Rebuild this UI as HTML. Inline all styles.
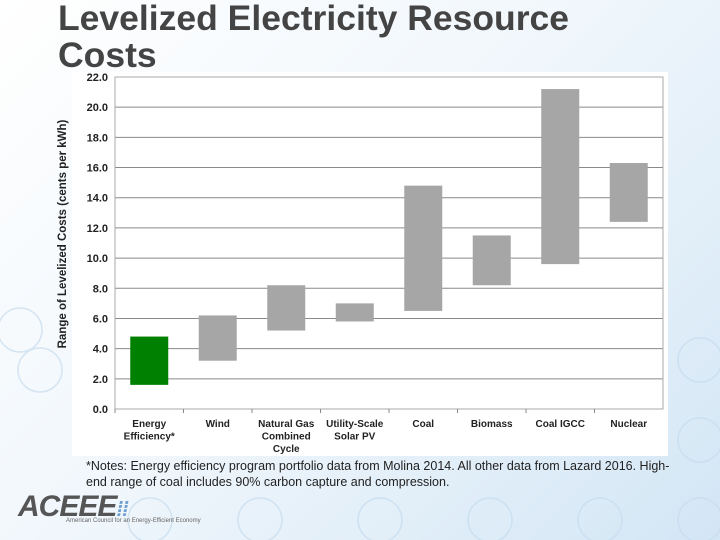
<!DOCTYPE html>
<html><head><meta charset="utf-8"><style>
body{margin:0;width:720px;height:540px;overflow:hidden;font-family:"Liberation Sans",sans-serif;background:linear-gradient(135deg,#ffffff 0%,#f1f7fc 45%,#d3e6f5 100%);position:relative}
.title{position:absolute;left:58px;top:0px;font-size:35.5px;font-weight:bold;color:#444;line-height:37px}
.note{position:absolute;left:86px;top:458px;font-size:12.5px;color:#222;line-height:16px;width:600px}
.logo{position:absolute;left:18px;top:490px;font-size:30px;font-weight:bold;color:#555;font-style:italic;letter-spacing:-1px}
.sub{position:absolute;left:66px;top:518px;font-size:6px;color:#666}
</style></head><body>
<div class="title">Levelized Electricity Resource<br>Costs</div>
<svg id="c" width="720" height="540" style="position:absolute;left:0;top:0">
<g fill="none" stroke="#c6dcee" stroke-width="1.5" opacity="0.7">
<circle cx="20" cy="330" r="22"/><circle cx="40" cy="370" r="22"/><circle cx="150" cy="520" r="22"/><circle cx="260" cy="520" r="22"/><circle cx="380" cy="520" r="22"/><circle cx="490" cy="520" r="22"/><circle cx="600" cy="520" r="22"/><circle cx="700" cy="520" r="22"/><circle cx="700" cy="440" r="22"/><circle cx="700" cy="360" r="22"/>
</g>
<rect x="72" y="72" width="596" height="384" fill="#fff"/>
<g id="grid"></g><g id="bars"></g><g id="axes"></g>
<text transform="translate(66,234) rotate(-90)" text-anchor="middle" font-size="11.5" font-weight="bold" fill="#222">Range of Levelized Costs (cents per kWh)</text>
</svg>
<div class="note">*Notes: Energy efficiency program portfolio data from Molina 2014. All other data from Lazard 2016. High-end range of coal includes 90% carbon capture and compression.</div>
<div class="logo">ACEEE<span style="color:#6f9fcf;font-size:20px">⁞⁞</span></div>
<div class="sub">American Council for an Energy-Efficient Economy</div>
<script>
const categories=[["Energy","Efficiency*"],["Wind"],["Natural Gas","Combined","Cycle"],["Utility-Scale","Solar PV"],["Coal"],["Biomass"],["Coal IGCC"],["Nuclear"]];
const lowValues=[1.6,3.2,5.2,5.8,6.5,8.2,9.6,12.4];
const highValues=[4.8,6.2,8.2,7.0,14.8,11.5,21.2,16.3];
const yTicks=[0,2,4,6,8,10,12,14,16,18,20,22];
const NS="http://www.w3.org/2000/svg";
const X0=115,X1=663,Y0=409,Y1=77,YMAX=22;
const y=v=>Y0-(v/YMAX)*(Y0-Y1);
const cw=(X1-X0)/categories.length;
const x=i=>X0+cw*i;
function mk(t,a,p){const e=document.createElementNS(NS,t);for(const k in a)e.setAttribute(k,a[k]);p.appendChild(e);return e;}
const g=document.getElementById('grid'),b=document.getElementById('bars'),ax=document.getElementById('axes');
yTicks.forEach(v=>{
 const l=mk('line',{x1:X0,x2:X1,y1:y(v),y2:y(v),stroke:'#8a8a8a','stroke-width':1},g);
 
 
 const t=mk('text',{x:X0-7,y:y(v)+4,'text-anchor':'end','font-size':11,'font-weight':'bold',fill:'#222'},ax);
 t.textContent=v.toFixed(1);
 
 
});
mk('rect',{x:X0,y:Y1,width:X1-X0,height:Y0-Y1,fill:'none',stroke:'#aaa'},ax);
categories.forEach((c,i)=>{
 const bw=38;
 const r=mk('rect',{x:x(i)+cw/2-bw/2,y:y(highValues[i]),width:bw,height:y(lowValues[i])-y(highValues[i]),fill:i==0?'#008000':'#a6a6a6'},b);
 
 
 const tk=mk('line',{x1:x(i),x2:x(i),y1:Y0,y2:Y0+4,stroke:'#888'},ax);
 
 
 c.forEach((s,j)=>{
  const t=mk('text',{x:x(i)+cw/2,y:Y0+18+j*12.5,'text-anchor':'middle','font-size':10,'font-weight':'bold',fill:'#222'},ax);
  t.textContent=s;
  
  
 });
});
</script>
</body></html>
